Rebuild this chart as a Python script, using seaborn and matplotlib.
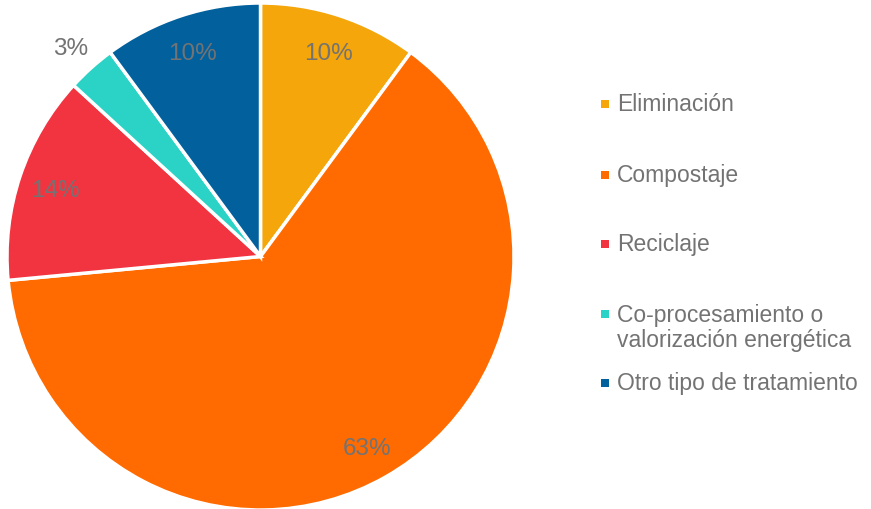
import matplotlib
matplotlib.use("Agg")
import matplotlib.pyplot as plt
import seaborn as sns
import numpy as np

categorias = ["Eliminación", "Compostaje", "Reciclaje",
              "Co-procesamiento o\nvalorización energética", "Otro tipo de tratamiento"]
proporciones = [10.1, 63.4, 13.3, 3.1, 10.1]
etiquetas = ["10%", "63%", "14%", "3%", "10%"]
colores = ["#F4A60A", "#FF6B00", "#F23340", "#2AD3C6", "#02609C"]

sns.set_style("white")
plt.rcParams["font.family"] = ["Liberation Sans", "DejaVu Sans"]
gris = "#737373"

fig = plt.figure(figsize=(8.71, 5.10), dpi=100)
# centro del pastel en (260.5, 257.5) px, radio 253.5 px
ax = fig.add_axes([7 / 871, -1 / 510, 507 / 871, 507 / 510])

wedges, _ = ax.pie(
    proporciones, colors=sns.color_palette(colores), startangle=90, counterclock=False,
    wedgeprops=dict(edgecolor="white", linewidth=2.5))
ax.set_xlim(-1, 1)
ax.set_ylim(-1, 1)
ax.set_aspect("equal")

# etiquetas de porcentaje; la pequeña va fuera del sector
for w, et, v in zip(wedges, etiquetas, proporciones):
    ang = np.deg2rad((w.theta1 + w.theta2) / 2)
    r = 1.12 if v < 5 else 0.855
    ax.text(r * np.cos(ang), r * np.sin(ang) - 0.01, et, color=gris, fontsize=17.5,
            ha="center", va="center")

# leyenda manual (línea base de la primera línea, en px)
y_base = [111, 182, 251, 321, 390]
interlinea = 26
for cat, col, y in zip(categorias, colores, y_base):
    fy = 1 - y / 510
    fig.add_artist(plt.Rectangle((601 / 871, fy + 2.5 / 510), 7.5 / 871, 7.5 / 510,
                                 transform=fig.transFigure, color=col, lw=0))
    n = cat.count("\n")
    fig.text(617 / 871, fy - n * interlinea / 510, cat, color=gris, fontsize=16.5,
             va="baseline", ha="left", linespacing=1.13)

fig.savefig("out.png", dpi=100)
